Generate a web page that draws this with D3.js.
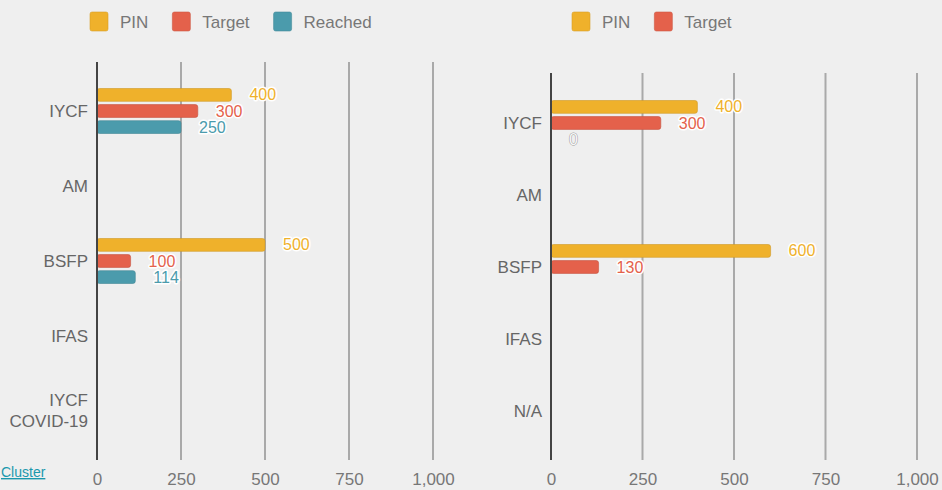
<!DOCTYPE html>
<html>
<head>
<meta charset="utf-8">
<script src="https://cdn.jsdelivr.net/npm/d3@7"></script>
<style>
  html, body { margin: 0; padding: 0; background: #efefef; }
  svg { display: block; font-family: "Liberation Sans", Arial, sans-serif; }
</style>
</head>
<body>
<svg id="chart" width="942" height="490"></svg>
<script>
  // ---- data ----
  const xTicks = [0, 250, 500, 750, 1000];

  const leftCategories = ["IYCF", "AM", "BSFP", "IFAS", "IYCF\nCOVID-19"];
  const leftSeries = ["PIN", "Target", "Reached"];
  const leftPIN = [400, null, 500, null, null];
  const leftTarget = [300, null, 100, null, null];
  const leftReached = [250, null, 114, null, null];

  const rightCategories = ["IYCF", "AM", "BSFP", "IFAS", "N/A"];
  const rightSeries = ["PIN", "Target", "Reached"];
  const rightLegend = ["PIN", "Target"];
  const rightPIN = [400, null, 600, null, null];
  const rightTarget = [300, null, 130, null, null];
  const rightReached = [0, null, null, null, null];

  const colors = { PIN: "#efb12b", Target: "#e4614b", Reached: "#4b9bac" };
  const FONT = "'Liberation Sans', Arial, sans-serif";

  const svg = d3.select("#chart");

  function drawPanel(opt) {
    const g = svg.append("g");
    const x = d3.scaleLinear().domain([0, 1000]).range([opt.x0, opt.x1]);
    const y = d3.scaleBand().domain(opt.categories).range([opt.yTop, opt.yBottom]);
    const inner = d3.scaleBand().domain(opt.series).range([-22.5, 22.5]).paddingInner(0.2);

    // gridlines
    g.append("g").selectAll("line")
      .data(xTicks.filter(t => t > 0))
      .join("line")
      .attr("x1", d => x(d)).attr("x2", d => x(d))
      .attr("y1", opt.gridTop).attr("y2", opt.gridBottom)
      .attr("stroke", "#a9a9a9").attr("stroke-width", 2);

    // x axis labels
    const ax = g.append("g")
      .attr("transform", `translate(0,${opt.gridBottom})`)
      .call(d3.axisBottom(x).tickValues(xTicks).tickFormat(d3.format(",")).tickSize(0).tickPadding(13));
    ax.attr("font-family", FONT);
    ax.select(".domain").remove();
    ax.selectAll("text").attr("fill", "#777").attr("font-size", 17);

    // bars
    const rows = [];
    opt.categories.forEach((c, i) => {
      opt.series.forEach((s, j) => {
        const v = opt.values[j][i];
        if (v !== null) rows.push({ cat: c, series: s, value: v, label: opt.labelStyle[j] });
      });
    });

    g.append("g").selectAll("rect")
      .data(rows.filter(d => d.value > 0))
      .join("rect")
      .attr("x", x(0))
      .attr("y", d => y(d.cat) + y.bandwidth() / 2 + inner(d.series))
      .attr("width", d => x(d.value) - x(0))
      .attr("height", inner.bandwidth())
      .attr("rx", 2.5)
      .attr("fill", d => colors[d.series])
      .attr("stroke", d => d3.color(colors[d.series]).darker(0.4))
      .attr("stroke-width", 0.6);

    // value labels
    g.append("g").selectAll("text")
      .data(rows)
      .join("text")
      .attr("x", d => x(d.value) + 18)
      .attr("y", d => y(d.cat) + y.bandwidth() / 2 + inner(d.series) + inner.bandwidth() / 2)
      .attr("dominant-baseline", "central")
      .attr("font-size", 16)
      .attr("fill", d => d.label.fill || colors[d.series])
      .attr("stroke", d => d.label.stroke)
      .attr("stroke-width", d => d.label.width)
      .attr("stroke-linejoin", "round")
      .attr("paint-order", "stroke")
      .text(d => d3.format(",")(d.value));

    // zero axis line
    g.append("line")
      .attr("x1", x(0)).attr("x2", x(0))
      .attr("y1", opt.gridTop).attr("y2", opt.gridBottom)
      .attr("stroke", "#444").attr("stroke-width", 2);

    // category labels
    const cl = g.append("g").selectAll("text")
      .data(opt.categories)
      .join("text")
      .attr("text-anchor", "end")
      .attr("font-size", 17)
      .attr("fill", "#666");
    cl.each(function (d) {
      const lines = d.split("\n");
      const cy = y(d) + y.bandwidth() / 2;
      const lh = 21;
      d3.select(this).selectAll("tspan")
        .data(lines)
        .join("tspan")
        .attr("x", x(0) - 9)
        .attr("y", (l, k) => cy + (k - (lines.length - 1) / 2) * lh)
        .attr("dominant-baseline", "central")
        .text(l => l);
    });

    // legend
    const lg = g.append("g");
    let cx = opt.legendX;
    opt.legend.forEach(s => {
      lg.append("rect")
        .attr("x", cx).attr("y", 12)
        .attr("width", 18).attr("height", 19).attr("rx", 2)
        .attr("fill", colors[s])
        .attr("stroke", d3.color(colors[s]).darker(0.3)).attr("stroke-width", 0.6);
      const t = lg.append("text")
        .attr("x", cx + 30).attr("y", 22)
        .attr("dominant-baseline", "central")
        .attr("font-size", 17).attr("fill", "#777")
        .text(s);
      cx += 30 + t.node().getComputedTextLength() + 24;
    });
  }

  const halo = { stroke: "#ffffff", width: 3 };

  drawPanel({
    categories: leftCategories,
    series: leftSeries,
    legend: leftSeries,
    values: [leftPIN, leftTarget, leftReached],
    labelStyle: [halo, halo, halo],
    x0: 97, x1: 433,
    yTop: 73.5, yBottom: 448.5,
    gridTop: 62, gridBottom: 460,
    legendX: 90
  });

  drawPanel({
    categories: rightCategories,
    series: rightSeries,
    legend: rightLegend,
    values: [rightPIN, rightTarget, rightReached],
    labelStyle: [halo, halo, { fill: "#f7f7f7", stroke: "#9a9a9a", width: 1 }],
    x0: 551, x1: 917,
    yTop: 87, yBottom: 447,
    gridTop: 73, gridBottom: 460,
    legendX: 572
  });

  // link text at bottom left
  svg.append("text")
    .attr("x", 1).attr("y", 477)
    .attr("font-size", 14)
    .attr("fill", "#1a98ad")
    .attr("text-decoration", "underline")
    .text("Cluster");
</script>
</body>
</html>
